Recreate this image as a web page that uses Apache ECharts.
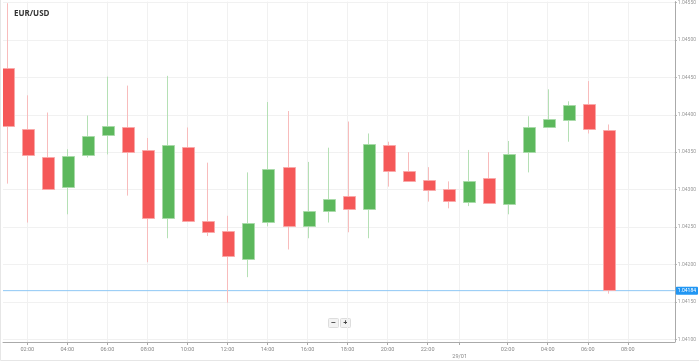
<!DOCTYPE html>
<html>
<head>
<meta charset="utf-8">
<script src="https://cdn.jsdelivr.net/npm/echarts@6/dist/echarts.min.js"></script>
<style>
html,body{margin:0;padding:0;background:#fff;}
#chart{width:699px;height:361px;}
</style>
</head>
<body>
<div id="chart"></div>
<script>
// Hours since 00:00 on 28/01 (hourly candles)
const hours  = [1,2,3,4,5,6,7,8,9,10,11,12,13,14,15,16,17,18,19,20,21,22,23,24,25,26,27,28,29,30,31];
const opens  = [1.04463,1.04381,1.04344,1.04303,1.04346,1.04373,1.04383,1.04353,1.04262,1.04357,1.04258,1.04245,1.04208,1.04256,1.04330,1.04251,1.04272,1.04291,1.04274,1.04359,1.04325,1.04313,1.04301,1.04284,1.04315,1.04280,1.04349,1.04383,1.04393,1.04415,1.04379];
const closes = [1.04386,1.04346,1.04301,1.04345,1.04372,1.04385,1.04350,1.04262,1.04360,1.04258,1.04243,1.04212,1.04256,1.04327,1.04251,1.04271,1.04288,1.04273,1.04361,1.04324,1.04312,1.04299,1.04285,1.04312,1.04282,1.04347,1.04383,1.04394,1.04413,1.04381,1.04165];
const lows   = [1.04308,1.04256,1.04300,1.04267,1.04343,1.04347,1.04292,1.04203,1.04235,1.04257,1.04238,1.04149,1.04183,1.04251,1.04220,1.04235,1.04256,1.04243,1.04235,1.04304,1.04311,1.04284,1.04275,1.04278,1.04281,1.04267,1.04323,1.04383,1.04364,1.04375,1.04161];
const highs  = [1.04549,1.04426,1.04403,1.04354,1.04399,1.04451,1.04439,1.04369,1.04452,1.04383,1.04336,1.04265,1.04323,1.04417,1.04405,1.04337,1.04356,1.04391,1.04375,1.04364,1.04350,1.04330,1.04311,1.04353,1.04350,1.04365,1.04398,1.04434,1.04418,1.04445,1.04387];

const xTickValues = [2,4,6,8,10,12,14,16,18,20,22,23.6,26,28,30,32];
const xTickLabels = ['02:00','04:00','06:00','08:00','10:00','12:00','14:00','16:00','18:00','20:00','22:00','\n29/01','02:00','04:00','06:00','08:00'];
const yTickValues = [1.041,1.0415,1.042,1.0425,1.043,1.0435,1.044,1.0445,1.045,1.0455];
const yTickLabels = ['1.04100','1.04150','1.04200','1.04250','1.04300','1.04350','1.04400','1.04450','1.04500','1.04550'];

const title = 'EUR/USD';
const priceLabel = '1.04184';
const lastClose = closes[closes.length - 1];

const X_MIN = 0.7855, X_MAX = 34.35;
const Y_MIN = 1.040964, Y_MAX = 1.045512;

const candleData = hours.map((h, i) => [h, opens[i], closes[i], lows[i], highs[i]]);

const UP_FILL = '#5cb85c', UP_BORDER = '#a9daa9', UP_WICK = '#b5e0b5';
const DN_FILL = '#f55858', DN_BORDER = '#f9a9a9', DN_WICK = '#f8bcbc';
const BODY_W = 12;

const chart = echarts.init(document.getElementById('chart'), null, {renderer: 'canvas'});

function labelFor(vals, labels, v) {
  for (let i = 0; i < vals.length; i++) {
    if (Math.abs(vals[i] - v) < 1e-7) return labels[i];
  }
  return '';
}

function renderCandle(params, api) {
  const t = api.value(0), o = api.value(1), c = api.value(2), l = api.value(3), h = api.value(4);
  const pO = api.coord([t, o]);
  const pC = api.coord([t, c]);
  const pL = api.coord([t, l]);
  const pH = api.coord([t, h]);
  const up = c >= o;
  const cx = Math.round(pO[0]) + 0.5;
  const top = Math.min(pO[1], pC[1]);
  const bot = Math.max(pO[1], pC[1]);
  const x0 = Math.round(cx - BODY_W / 2) + 0.5;
  return {
    type: 'group',
    children: [
      {
        type: 'line',
        shape: {x1: cx, y1: pH[1], x2: cx, y2: pL[1]},
        style: {stroke: up ? UP_WICK : DN_WICK, lineWidth: 1}
      },
      {
        type: 'rect',
        shape: {x: x0, y: Math.round(top) + 0.5, width: BODY_W, height: Math.max(Math.round(bot - top), 1)},
        style: {fill: up ? UP_FILL : DN_FILL, stroke: up ? UP_BORDER : DN_BORDER, lineWidth: 1}
      }
    ]
  };
}

const option = {
  animation: false,
  backgroundColor: '#fff',
  title: {
    text: title,
    left: 9, top: 5,
    textStyle: {fontSize: 8, fontWeight: 'bold', color: '#333', fontFamily: 'Open Sans'}
  },
  grid: {left: 3, right: 23, top: 0, bottom: 19},
  xAxis: {
    type: 'value',
    min: X_MIN,
    max: X_MAX,
    axisLine: {show: true, lineStyle: {color: '#aaa', width: 1}},
    axisTick: {show: true, length: 3, lineStyle: {color: '#aaa'}, customValues: xTickValues},
    axisLabel: {
      customValues: xTickValues,
      formatter: v => labelFor(xTickValues, xTickLabels, v),
      fontSize: 5.5, color: '#888', margin: 4, fontFamily: 'Roboto', lineHeight: 7
    },
    splitLine: {show: true, lineStyle: {color: '#f1f1f1', width: 1}}
  },
  yAxis: {
    type: 'value',
    position: 'right',
    min: Y_MIN,
    max: Y_MAX,
    scale: true,
    axisLine: {show: true, lineStyle: {color: '#aaa', width: 1}},
    axisTick: {show: true, length: 2, lineStyle: {color: '#aaa'}, customValues: yTickValues},
    axisLabel: {
      customValues: yTickValues,
      formatter: v => labelFor(yTickValues, yTickLabels, v),
      fontSize: 5, color: '#999', margin: 3, fontFamily: 'Roboto'
    },
    splitLine: {show: true, lineStyle: {color: '#f1f1f1', width: 1}}
  },
  series: [
    {
      type: 'line',
      name: 'price',
      silent: true,
      symbol: 'none',
      data: [[X_MIN, lastClose], [X_MAX, lastClose]],
      lineStyle: {color: '#8fc8f5', width: 1},
      z: 1,
      endLabel: {
        show: true,
        formatter: priceLabel,
        backgroundColor: '#2196f3',
        color: '#fff',
        fontSize: 5,
        padding: [2, 2, 1, 2],
        borderRadius: 1,
        distance: 1,
        fontFamily: 'Roboto'
      }
    },
    {
      type: 'custom',
      name: 'EUR/USD',
      renderItem: renderCandle,
      dimensions: ['t', 'open', 'close', 'lowest', 'highest'],
      encode: {x: 0, y: [1, 2, 3, 4]},
      data: candleData,
      clip: true,
      z: 2
    }
  ],
  graphic: [
    {
      type: 'polyline',
      silent: true,
      shape: {points: [[0.5, 0], [0.5, 360.5], [699, 360.5]]},
      style: {stroke: '#e6e6e6', fill: null, lineWidth: 1}
    },
    {
      type: 'group',
      left: 328, top: 318,
      children: [
        {type: 'rect', shape: {x: 0, y: 0, width: 10, height: 9, r: 1}, style: {fill: '#f3f3f3', stroke: '#ddd'}},
        {type: 'text', style: {x: 5, y: 4.5, text: '−', fontSize: 8, fontWeight: 'bold', fill: '#444', align: 'center', verticalAlign: 'middle'}},
        {type: 'rect', shape: {x: 12, y: 0, width: 10, height: 9, r: 1}, style: {fill: '#f3f3f3', stroke: '#ddd'}},
        {type: 'text', style: {x: 17, y: 4.5, text: '+', fontSize: 8, fontWeight: 'bold', fill: '#444', align: 'center', verticalAlign: 'middle'}}
      ]
    }
  ]
};

chart.setOption(option);
</script>
</body>
</html>
